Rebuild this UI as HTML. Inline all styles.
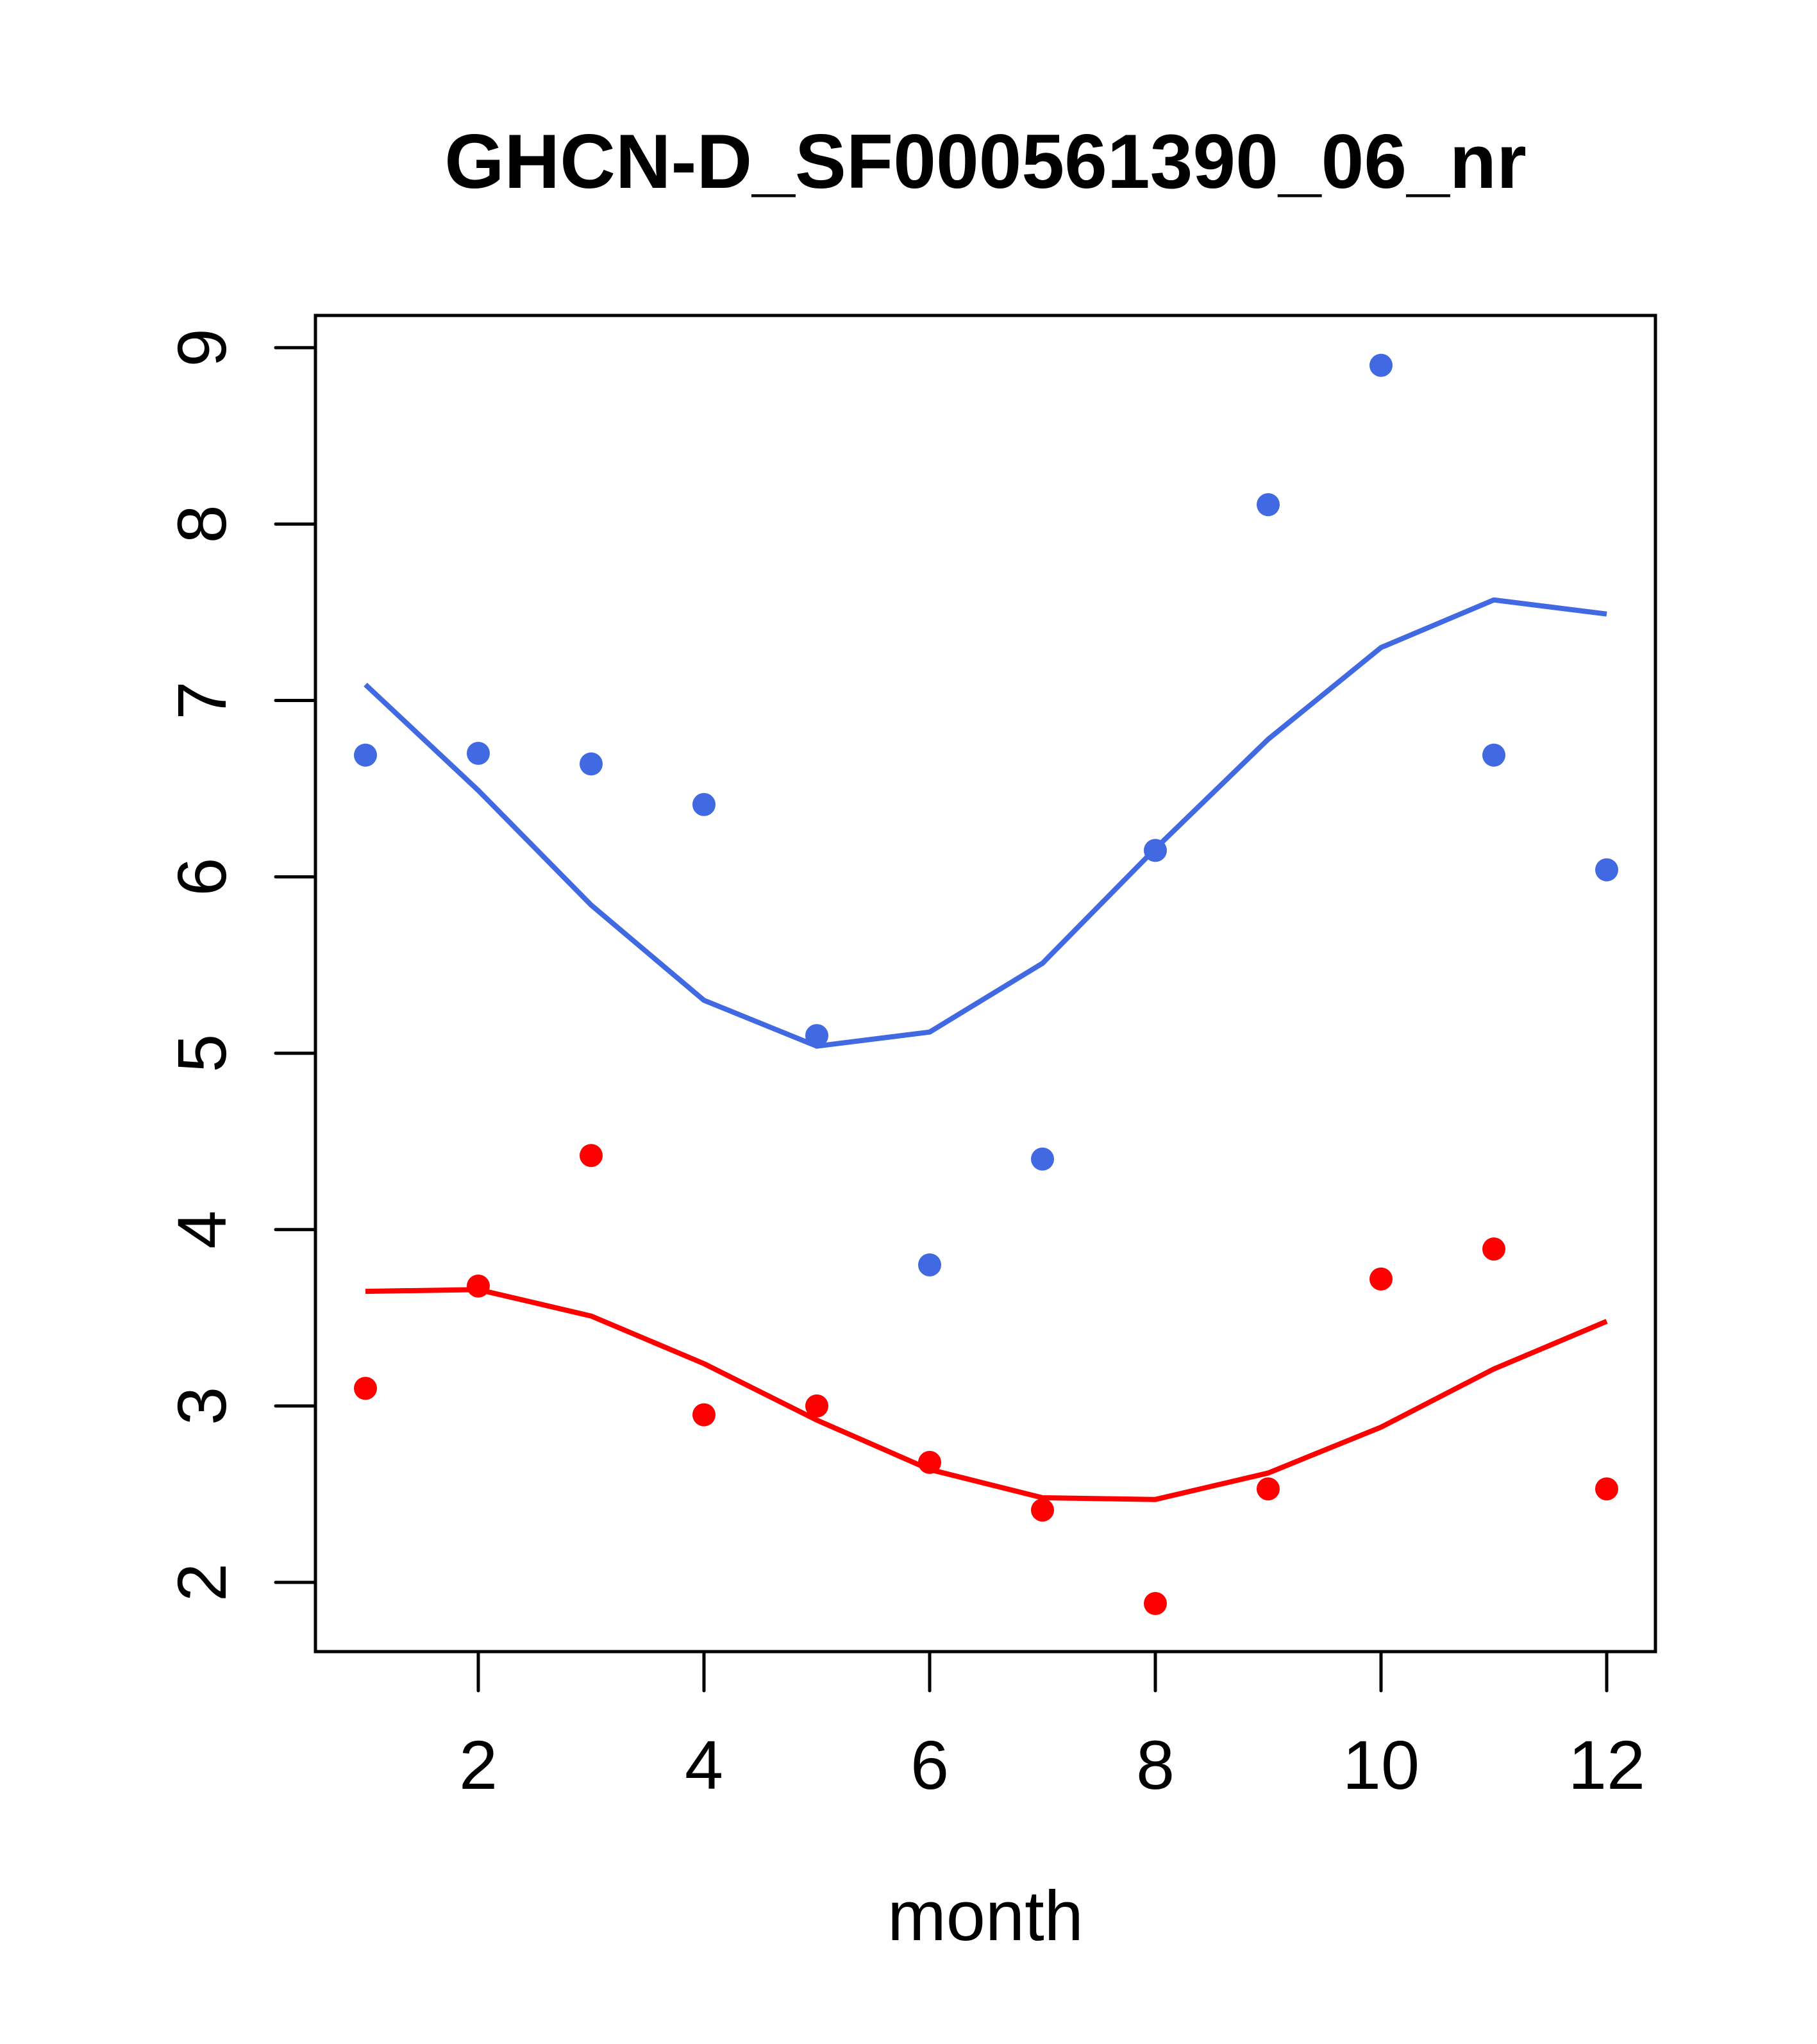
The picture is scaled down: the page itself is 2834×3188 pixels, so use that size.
<!DOCTYPE html>
<html><head><meta charset="utf-8"><style>
html,body{margin:0;padding:0;background:#fff}
svg{display:block}
text{font-family:"Liberation Sans",sans-serif;fill:#000}
</style></head><body>
<svg id="chart" width="2834" height="3188" viewBox="0 0 2834 3188" xmlns="http://www.w3.org/2000/svg">
<rect width="2834" height="3188" fill="#fff"/>
<text x="1537" y="293" font-size="120" font-weight="bold" text-anchor="middle">GHCN-D_SF000561390_06_nr</text>
<text x="1537" y="3026" font-size="110" text-anchor="middle">month</text>
<g id="axes"></g>
<g id="marks"></g>
<rect x="492" y="492" width="2090" height="2084" fill="none" stroke="#000" stroke-width="5"/>
</svg>
<script>
const months = [1,2,3,4,5,6,7,8,9,10,11,12];
const blueDots = [6.69,6.70,6.64,6.41,5.10,3.80,4.40,6.15,8.11,8.90,6.69,6.04];
const blueLine = [7.09,6.49,5.84,5.30,5.04,5.12,5.51,6.16,6.78,7.30,7.57,7.49];
const redDots = [3.10,3.68,4.42,2.95,3.00,2.68,2.41,1.88,2.53,3.72,3.89,2.53];
const redLine = [3.65,3.66,3.51,3.24,2.92,2.64,2.48,2.47,2.62,2.88,3.21,3.48];
const xTicks = [2,4,6,8,10,12];
const yTicks = [2,3,4,5,6,7,8,9];

const NS = "http://www.w3.org/2000/svg";
function xs(v){return 746 + (v-2)*176;}
function ys(v){return 2468 - (v-2)*275.1;}
function mk(tag, attrs){const e=document.createElementNS(NS,tag);for(const k in attrs)e.setAttribute(k,attrs[k]);return e;}
const axes=document.getElementById('axes'), marks=document.getElementById('marks');

xTicks.forEach(t=>{
  const l=mk('line',{x1:xs(t),x2:xs(t),y1:2576,y2:2637,stroke:'#000','stroke-width':5,'stroke-linecap':'round'});
  
  
  axes.appendChild(l);
  const tx=mk('text',{x:xs(t),y:2790,'font-size':108,'text-anchor':'middle'});
  tx.textContent=t;
  
  
  axes.appendChild(tx);
});
yTicks.forEach(t=>{
  const l=mk('line',{x1:430,x2:492,y1:ys(t),y2:ys(t),stroke:'#000','stroke-width':5,'stroke-linecap':'round'});
  
  
  axes.appendChild(l);
  const tx=mk('text',{x:0,y:0,'font-size':108,'text-anchor':'middle',transform:`translate(352,${ys(t)}) rotate(-90)`});
  tx.textContent=t;
  
  
  axes.appendChild(tx);
});
function line(vals,color,name){
  const p=mk('polyline',{points:vals.map((v,i)=>xs(months[i])+','+ys(v)).join(' '),fill:'none',stroke:color,'stroke-width':8,'stroke-linejoin':'round'});
  
  
  marks.appendChild(p);
}
function dots(vals,color,name){
  vals.forEach((v,i)=>{
    const c=mk('circle',{cx:xs(months[i]),cy:ys(v),r:18,fill:color});
    
    
    marks.appendChild(c);
  });
}
line(blueLine,'#4169E1','blue-line');
line(redLine,'#FF0000','red-line');
dots(blueDots,'#4169E1','blue-point');
dots(redDots,'#FF0000','red-point');
</script>
</body></html>
